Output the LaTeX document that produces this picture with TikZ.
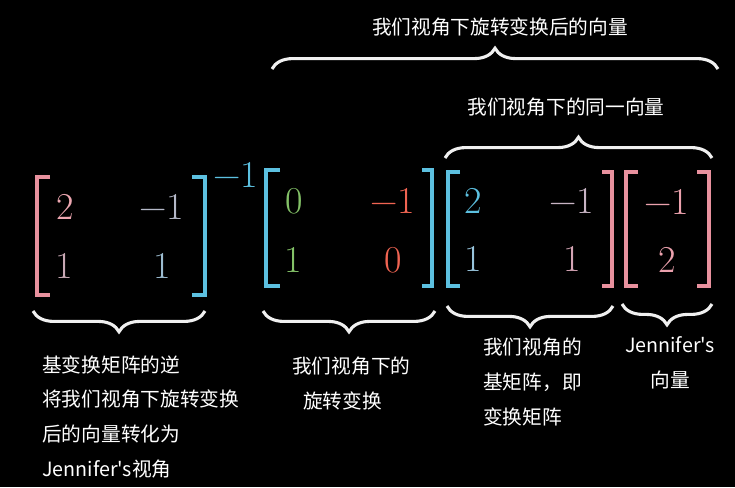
\documentclass[tikz,border=0pt]{standalone}
\usepackage[no-math]{fontspec}
\newfontfamily\cjk{Noto Sans CJK SC}
\usepackage{xcolor}
\usetikzlibrary{decorations.pathreplacing}

\definecolor{pinkc}{HTML}{E8919E}
\definecolor{bluec}{HTML}{5CC0E0}
\definecolor{greenc}{HTML}{83C167}
\definecolor{redc}{HTML}{F06452}

\begin{document}
\begin{tikzpicture}[x=0.025cm, y=-0.025cm,
  num/.style={inner sep=0pt, font=\fontsize{27}{30}\selectfont},
  lbl/.style={inner sep=0pt, text=white, font=\cjk\fontsize{14}{24.8}\selectfont},
  bkt/.style={line width=3pt},
  brc/.style={decorate, decoration={brace, amplitude=0.52cm}, line width=2.2pt, draw=white!88!gray}]
  \fill[black] (0,0) rectangle (735,487);
  \useasboundingbox (0,0) rectangle (735,487);

  % inverse of the basis matrix
  \draw[bkt, draw=pinkc] (50,177) -- (37,177) -- (37,295) -- (50,295);
  \draw[bkt, draw=bluec] (192,177) -- (205,177) -- (205,295) -- (192,295);
  \node[num, text=pinkc!80!white] (ia) at (65,207) {2};
  \node[num, text={rgb,255:red,180;green,184;blue,200}] (ib) at (162,207) {−1};
  \node[num, text={rgb,255:red,200;green,168;blue,180}] (ic) at (64,266) {1};
  \node[num, text={rgb,255:red,156;green,188;blue,208}] (id) at (162,266) {1};
  \node[num, text=bluec] (inv) at (236,175) {−1};

  % rotation
  \draw[bkt, draw=bluec] (280,170) -- (266,170) -- (266,286) -- (280,286);
  \draw[bkt, draw=bluec] (422,170) -- (432,170) -- (432,286) -- (422,286);
  \node[num, text=greenc] (ra) at (294,201) {0};
  \node[num, text=redc] (rb) at (393,201) {−1};
  \node[num, text=greenc] (rc) at (293,260) {1};
  \node[num, text=redc] (rd) at (393,260) {0};

  % basis matrix
  \draw[bkt, draw=bluec] (460,172) -- (448,172) -- (448,286) -- (460,286);
  \draw[bkt, draw=pinkc] (602,172) -- (612,172) -- (612,286) -- (602,286);
  \node[num, text=bluec] (ba) at (473,201) {2};
  \node[num, text={rgb,255:red,200;green,180;blue,196}] (bb) at (572,201) {−1};
  \node[num, text={rgb,255:red,152;green,196;blue,220}] (bc) at (473,259) {1};
  \node[num, text={rgb,255:red,212;green,164;blue,180}] (bd) at (572,259) {1};

  % Jennifer's vector
  \draw[bkt, draw=pinkc] (638,172) -- (626,172) -- (626,286) -- (638,286);
  \draw[bkt, draw=pinkc] (697,172) -- (709,172) -- (709,286) -- (697,286);
  \node[num, text=pinkc!85!white] (va) at (667,202) {−1};
  \node[num, text=pinkc!85!white] (vb) at (667,260) {2};

  % brace ends
  \coordinate (u1l) at (33,311);  \coordinate (u1r) at (205,311);
  \coordinate (u2l) at (263,311); \coordinate (u2r) at (435,311);
  \coordinate (u3l) at (447,306); \coordinate (u3r) at (613,306);
  \coordinate (u4l) at (622,304); \coordinate (u4r) at (712,304);
  \coordinate (o1l) at (272,69);  \coordinate (o1r) at (718,69);
  \coordinate (o2l) at (445,158); \coordinate (o2r) at (712,158);

  \draw[brc] (u1r) -- (u1l);
  \draw[brc] (u2r) -- (u2l);
  \draw[brc] (u3r) -- (u3l);
  \draw[brc] (u4r) -- (u4l);
  \draw[brc] (o1l) -- (o1r);
  \draw[brc] (o2l) -- (o2r);

  % labels
  \node[lbl] (topall) at (500,27) {我们视角下旋转变换后的向量};
  \node[lbl] (topsame) at (566,107) {我们视角下的同一向量};
  \node[lbl, align=left, anchor=north west] (tinv) at (42,355) {基变换矩阵的逆\\将我们视角下旋转变换\\后的向量转化为\\Jennifer's视角};
  \node[lbl, align=left, anchor=north west] (trot) at (292,357) {我们视角下的\\\hspace*{0.55em}旋转变换};
  \node[lbl, align=left, anchor=north west] (tbasis) at (483,338) {我们视角的\\基矩阵，即\\变换矩阵};
  \node[lbl, align=center, anchor=north] (tvec) at (670,336) {Jennifer's\\向量};
\end{tikzpicture}
\end{document}
